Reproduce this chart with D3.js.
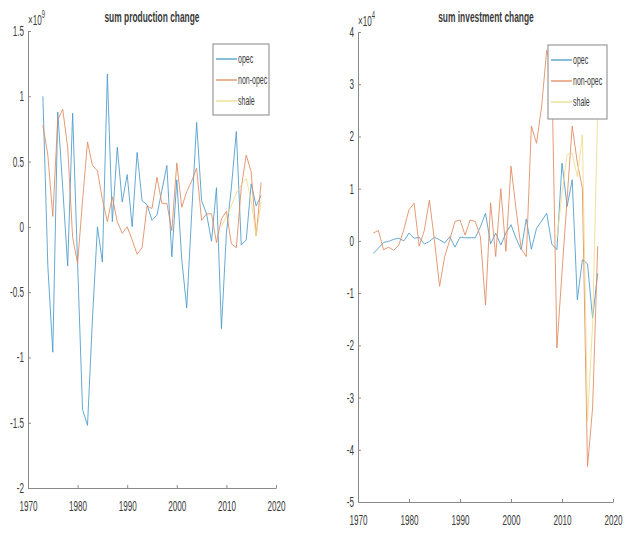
<!DOCTYPE html>
<html>
<head>
<meta charset="utf-8">
<script src="https://cdn.jsdelivr.net/npm/d3@7"></script>
<style>
  body { margin: 0; background: #fff; }
  svg { display: block; }
  text { font-family: "Liberation Sans", Arial, sans-serif; fill: #3a3a3a; }
</style>
</head>
<body>
<div id="container"></div>
<script>
// years of the change series
const years = [1973, 1974, 1975, 1976, 1977, 1978, 1979, 1980, 1981, 1982,
  1983, 1984, 1985, 1986, 1987, 1988, 1989, 1990, 1991, 1992,
  1993, 1994, 1995, 1996, 1997, 1998, 1999, 2000, 2001, 2002,
  2003, 2004, 2005, 2006, 2007, 2008, 2009, 2010, 2011, 2012,
  2013, 2014, 2015, 2016, 2017]
const shaleYears = [2009, 2010, 2011, 2012, 2013, 2014, 2015, 2016, 2017]

// production change, x 1e9
const prodOpec = [1.0, -0.3, -0.96, 0.88, 0.3, -0.3, 0.87, -0.28, -1.40, -1.52,
  -0.7, 0.0, -0.27, 1.17, 0.04, 0.61, 0.19, 0.40, 0.0, 0.57,
  0.2, 0.17, 0.05, 0.09, 0.28, 0.47, -0.23, 0.36, -0.25, -0.62,
  0.1, 0.8, 0.2, 0.1, -0.11, 0.3, -0.78, -0.05, 0.3, 0.73,
  -0.14, -0.1, 0.33, 0.16, 0.24]
const prodNonOpec = [0.78, 0.55, 0.08, 0.82, 0.9, 0.61, -0.08, -0.28, 0.2, 0.65,
  0.47, 0.43, 0.21, 0.04, 0.23, 0.04, -0.05, 0.0, -0.1, -0.21,
  -0.16, 0.16, 0.14, 0.38, 0.18, 0.18, -0.03, 0.49, 0.15, 0.27,
  0.35, 0.45, 0.05, 0.1, 0.1, -0.12, 0.06, 0.12, -0.13, -0.16,
  0.3, 0.55, 0.42, -0.07, 0.34]
const prodShale = [0.0, 0.08, 0.16, 0.26, 0.32, 0.37, 0.2, -0.07, 0.19]

// investment change, x 1e4
const invOpec = [-0.24, -0.14, -0.03, -0.01, 0.03, 0.05, 0.0, 0.15, 0.05, 0.07,
  -0.06, -0.01, 0.07, 0.02, -0.04, 0.08, -0.12, 0.07, 0.06, 0.06,
  0.06, 0.27, 0.53, -0.06, 0.15, -0.08, 0.15, 0.31, 0.05, -0.17,
  0.42, -0.16, 0.24, 0.38, 0.53, -0.06, -0.17, 1.49, 0.66, 1.17,
  -1.13, -0.36, -0.44, -1.48, -0.62]
const invNonOpec = [0.15, 0.2, -0.17, -0.12, -0.18, -0.08, 0.22, 0.6, 0.72, -0.1,
  0.2, 0.78, 0.0, -0.87, -0.3, 0.02, 0.37, 0.4, 0.11, 0.4,
  0.37, 0.08, -1.23, 0.73, -0.3, 1.0, -0.2, 1.43, 0.6, -0.15,
  -0.3, 2.2, 1.87, 2.57, 3.65, 3.3, -2.05, -0.6, 0.8, 2.2,
  1.5, 1.0, -4.32, -3.2, -0.1]
const invShale = [0.05, 0.9, 1.65, 1.68, 1.23, 2.03, -3.46, -1.6, 2.5]

const seriesNames = ["opec", "non-opec", "shale"]
const xTicks = [1970, 1980, 1990, 2000, 2010, 2020]
const prodTicks = [1.5, 1, 0.5, 0, -0.5, -1, -1.5, -2]
const prodTickLabels = ["1.5", "1", "0.5", "0", "-0.5", "-1", "-1.5", "-2"]
const invTicks = [4, 3, 2, 1, 0, -1, -2, -3, -4, -5]
const invTickLabels = ["4", "3", "2", "1", "0", "-1", "-2", "-3", "-4", "-5"]

const colors = ["#4a9acb", "#e08a5e", "#eedc88"]

const width = 631, height = 534
const squeezeX = 0.58 // the picture is squashed sideways

const svg = d3.select("#container")
	.append("svg")
	.attr("width", width)
	.attr("height", height)

// compress text horizontally around its own anchor
function squeeze(sel, sx) {
	sel.each(function () {
		const t = d3.select(this)
		const x0 = +t.attr("x") || 0
		t.attr("transform", `translate(${x0 * (1 - sx)},0) scale(${sx},1)`)
	})
}

function drawPanel(p) {
	const x = d3.scaleLinear().domain([1970, 2020]).range([p.left, p.right])
	const y = d3.scaleLinear().domain(p.yDomain).range([p.bottom, p.top])

	const g = svg.append("g")

	g.append("clipPath").attr("id", p.id)
		.append("rect")
		.attr("x", p.left).attr("y", p.top)
		.attr("width", p.right - p.left).attr("height", p.bottom - p.top)

	// axes, ticks inside like matlab
	const xAxis = g.append("g")
		.attr("transform", `translate(0,${p.bottom})`)
		.call(d3.axisBottom(x).tickValues(xTicks).tickFormat(d3.format("d")).tickSizeInner(-3).tickSizeOuter(0).tickPadding(13))
	const yAxis = g.append("g")
		.attr("transform", `translate(${p.left},0)`)
		.call(d3.axisLeft(y).tickValues(p.ticks).tickFormat((d, i) => p.tickLabels[i]).tickSizeInner(-3).tickSizeOuter(0).tickPadding(4))
	for (const a of [xAxis, yAxis]) {
		a.select(".domain").attr("stroke", "#8a8a8a")
		a.selectAll(".tick line").attr("stroke", "#8a8a8a")
		a.selectAll("text").style("font-size", "14px").attr("fill", "#3a3a3a")
		squeeze(a.selectAll("text"), squeezeX)
	}

	const line = d3.line()
		.x(d => x(d[0]))
		.y(d => y(d[1]))

	const lines = g.append("g").attr("clip-path", `url(#${p.id})`)
	p.series.forEach((s, i) => {
		lines.append("path")
			.datum(d3.zip(s.years, s.values))
			.attr("fill", "none")
			.attr("stroke", colors[i])
			.attr("stroke-width", 1)
			.attr("stroke-opacity", 0.85)
			.attr("d", line)
	})

	// exponent label
	const ex = g.append("text")
		.attr("x", p.left)
		.attr("y", p.top - 6)
		.style("font-size", "14px")
		.attr("fill", "#777")
	ex.append("tspan").text("\u00d710")
	ex.append("tspan").attr("dy", -7).style("font-size", "10px").text(p.exponent)
	squeeze(ex, squeezeX)

	// title
	const title = g.append("text")
		.attr("x", p.titleX)
		.attr("y", 22)
		.attr("text-anchor", "middle")
		.style("font-size", "14px")
		.style("font-weight", "bold")
		.attr("fill", "#222")
		.text(p.title)
	squeeze(title, 0.6)

	// legend
	const lg = g.append("g").attr("transform", `translate(${p.legend[0]},${p.legend[1]})`)
	lg.append("rect")
		.attr("width", p.legend[2]).attr("height", p.legend[3])
		.attr("fill", "#fff")
		.attr("stroke", "#9a9a9a")
		.attr("stroke-width", 1.2)
	seriesNames.forEach((name, i) => {
		const yy = 15 + i * 21
		lg.append("line")
			.attr("x1", 3).attr("x2", 24)
			.attr("y1", yy).attr("y2", yy)
			.attr("stroke", colors[i])
			.attr("stroke-width", 1.3)
		const t = lg.append("text")
			.attr("x", 25).attr("y", yy + 4.5)
			.style("font-size", "13px")
			.attr("fill", "#333")
			.text(name)
		squeeze(t, 0.54)
	})
}

drawPanel({
	id: "clipProd",
	left: 28, right: 276, top: 31, bottom: 488,
	yDomain: [-2, 1.5],
	ticks: prodTicks, tickLabels: prodTickLabels,
	exponent: "9",
	title: "sum production change", titleX: 152,
	legend: [213, 44, 56, 71],
	series: [
		{ years: years, values: prodOpec },
		{ years: years, values: prodNonOpec },
		{ years: shaleYears, values: prodShale },
	],
})

drawPanel({
	id: "clipInv",
	left: 358, right: 613, top: 32, bottom: 502,
	yDomain: [-5, 4],
	ticks: invTicks, tickLabels: invTickLabels,
	exponent: "4",
	title: "sum investment change", titleX: 486,
	legend: [548, 45, 59, 74],
	series: [
		{ years: years, values: invOpec },
		{ years: years, values: invNonOpec },
		{ years: shaleYears, values: invShale },
	],
})
</script>
</body>
</html>
